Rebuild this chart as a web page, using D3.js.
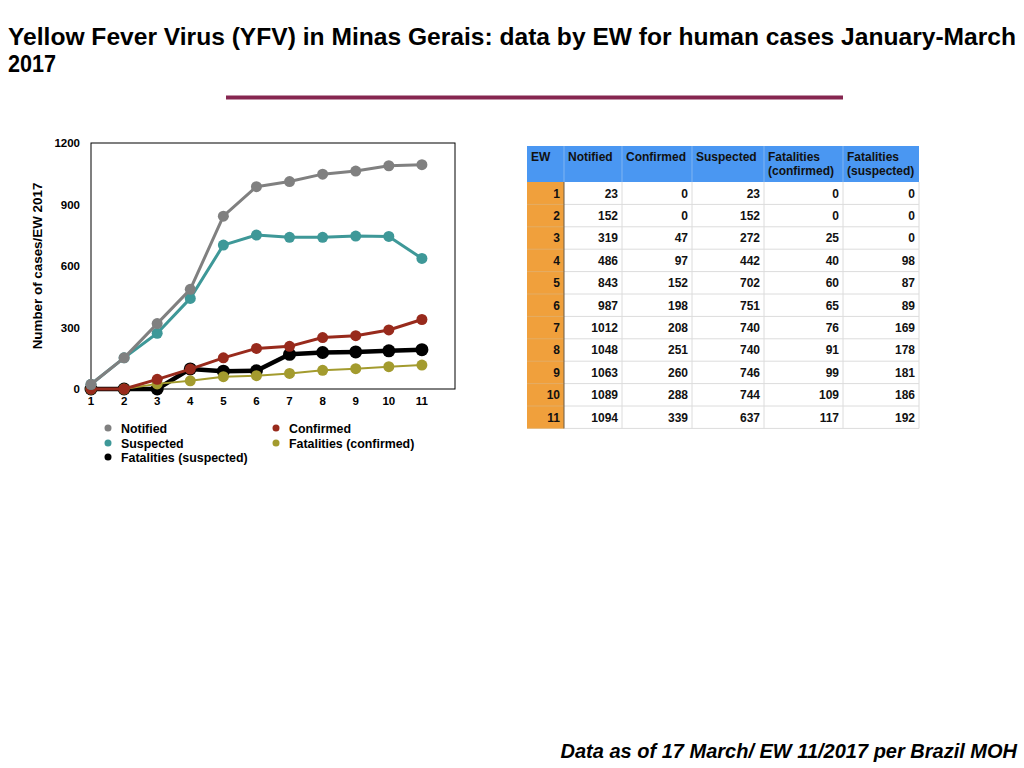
<!DOCTYPE html>
<html>
<head>
<meta charset="utf-8">
<script src="https://cdn.jsdelivr.net/npm/d3@7"></script>
<style>
  body { margin: 0; background: #fff; }
  text { font-family: "Liberation Sans", Arial, sans-serif; }
</style>
</head>
<body>
<div id="graph"></div>
<script>
// data
var weeks = [1, 2, 3, 4, 5, 6, 7, 8, 9, 10, 11];
var notified = [23, 152, 319, 486, 843, 987, 1012, 1048, 1063, 1089, 1094];
var confirmed = [0, 0, 47, 97, 152, 198, 208, 251, 260, 288, 339];
var suspected = [23, 152, 272, 442, 702, 751, 740, 740, 746, 744, 637];
var fatalConfirmed = [0, 0, 25, 40, 60, 65, 76, 91, 99, 109, 117];
var fatalSuspected = [0, 0, 0, 98, 87, 89, 169, 178, 181, 186, 192];
var yTicks = [0, 300, 600, 900, 1200];
var headers = [["EW"], ["Notified"], ["Confirmed"], ["Suspected"], ["Fatalities", "(confirmed)"], ["Fatalities", "(suspected)"]];

var svgWidth = 1024;
var svgHeight = 768;

var $svg = d3.select("#graph")
    .append("svg")
    .attr("width", svgWidth)
    .attr("height", svgHeight);

// title + rule
var titleLines = ["Yellow Fever Virus (YFV) in Minas Gerais: data by EW for human cases January-March", "2017"];
$svg.append("text")
    .attr("x", 8).attr("y", 45)
    .attr("font-size", 24).attr("font-weight", "bold")
    .attr("textLength", 1008).attr("lengthAdjust", "spacingAndGlyphs")
    .text(titleLines[0]);
$svg.append("text")
    .attr("x", 8).attr("y", 72)
    .attr("font-size", 24).attr("font-weight", "bold")
    .attr("textLength", 48).attr("lengthAdjust", "spacingAndGlyphs")
    .text(titleLines[1]);
$svg.append("rect")
    .attr("x", 226).attr("y", 95.5).attr("width", 617).attr("height", 4)
    .attr("fill", "#862650");

// chart
var x = d3.scaleLinear().domain([1, 12]).range([91, 455]);
var y = d3.scaleLinear().domain([0, 1200]).range([389, 143]);

$svg.append("rect")
    .attr("x", x(1)).attr("y", y(1200))
    .attr("width", x(12) - x(1)).attr("height", y(0) - y(1200))
    .attr("fill", "none").attr("stroke", "#000").attr("stroke-width", 1);

$svg.selectAll(".ytick").data(yTicks).enter().append("text")
    .attr("x", 80).attr("y", d => y(d) + 4)
    .attr("text-anchor", "end").attr("font-size", 11.5).attr("font-weight", "bold")
    .text(d => d);

$svg.selectAll(".xtick").data(weeks).enter().append("text")
    .attr("x", d => x(d)).attr("y", 405)
    .attr("text-anchor", "middle").attr("font-size", 11.5).attr("font-weight", "bold")
    .text(d => d);

$svg.append("text")
    .attr("transform", "translate(42,266) rotate(-90)")
    .attr("text-anchor", "middle").attr("font-size", 13.4).attr("font-weight", "bold")
    .text("Number of cases/EW 2017");

// drawn bottom to top
var series = [
    {name: "Fatalities (suspected)", values: fatalSuspected, color: "#000000", width: 4.5, r: 6.5},
    {name: "Fatalities (confirmed)", values: fatalConfirmed, color: "#A39B2E", width: 2, r: 5.5},
    {name: "Confirmed", values: confirmed, color: "#982A1C", width: 3, r: 5.5},
    {name: "Suspected", values: suspected, color: "#3E9898", width: 3, r: 5.5},
    {name: "Notified", values: notified, color: "#808080", width: 3, r: 5.5}
];

var line = d3.line().x((d, i) => x(weeks[i])).y(d => y(d));

series.forEach(s => {
    var g = $svg.append("g");
    g.append("path")
        .attr("d", line(s.values))
        .attr("fill", "none").attr("stroke", s.color)
        .attr("stroke-width", s.width).attr("stroke-linejoin", "round");
    g.selectAll("circle").data(s.values).enter().append("circle")
        .attr("cx", (d, i) => x(weeks[i])).attr("cy", d => y(d))
        .attr("r", s.r).attr("fill", s.color);
});

// legend
var legendItems = [
    {name: "Notified", color: "#808080", lx: 108, ly: 428},
    {name: "Confirmed", color: "#982A1C", lx: 276, ly: 428},
    {name: "Suspected", color: "#3E9898", lx: 108, ly: 443},
    {name: "Fatalities (confirmed)", color: "#A39B2E", lx: 276, ly: 443},
    {name: "Fatalities (suspected)", color: "#000000", lx: 108, ly: 457}
];
legendItems.forEach(d => {
    $svg.append("circle").attr("cx", d.lx).attr("cy", d.ly).attr("r", 3.5).attr("fill", d.color);
    $svg.append("text").attr("x", d.lx + 13).attr("y", d.ly + 4.5)
        .attr("font-size", 12.4).attr("font-weight", "bold").text(d.name);
});

// table
var colEdges = [527, 564, 622, 692, 764, 843, 919];
var headTop = 146, headBottom = 182, rowH = 22.4;
var rows = weeks.map((w, i) => [w, notified[i], confirmed[i], suspected[i], fatalConfirmed[i], fatalSuspected[i]]);
var tableBottom = headBottom + rowH * rows.length;

var $table = $svg.append("g");
$table.append("rect")
    .attr("x", colEdges[0]).attr("y", headTop)
    .attr("width", colEdges[6] - colEdges[0]).attr("height", headBottom - headTop)
    .attr("fill", "#4A97F2");
$table.append("rect")
    .attr("x", colEdges[0]).attr("y", headBottom)
    .attr("width", colEdges[1] - colEdges[0]).attr("height", tableBottom - headBottom)
    .attr("fill", "#F0A03C");

// grid lines
rows.forEach((r, i) => {
    var yy = headBottom + rowH * (i + 1);
    $table.append("line")
        .attr("x1", colEdges[1]).attr("x2", colEdges[6])
        .attr("y1", yy).attr("y2", yy)
        .attr("stroke", "#dcdcdc").attr("stroke-width", 1);
    $table.append("line")
        .attr("x1", colEdges[0]).attr("x2", colEdges[1])
        .attr("y1", yy).attr("y2", yy)
        .attr("stroke", "#e0b070").attr("stroke-width", 0.8);
});
colEdges.slice(2).forEach(cx => {
    $table.append("line")
        .attr("x1", cx).attr("x2", cx).attr("y1", headBottom).attr("y2", tableBottom)
        .attr("stroke", "#dcdcdc").attr("stroke-width", 1);
});
colEdges.slice(1, 6).forEach(cx => {
    $table.append("line")
        .attr("x1", cx).attr("x2", cx).attr("y1", headTop).attr("y2", headBottom)
        .attr("stroke", "#7fb4f2").attr("stroke-width", 1);
});
$table.append("line")
    .attr("x1", colEdges[1]).attr("x2", colEdges[1]).attr("y1", headBottom).attr("y2", tableBottom)
    .attr("stroke", "#6b5a44").attr("stroke-width", 1);

headers.forEach((h, c) => {
    h.forEach((t, k) => {
        $table.append("text")
            .attr("x", colEdges[c] + 4).attr("y", headTop + 15 + k * 14)
            .attr("font-size", 12).attr("font-weight", "bold").attr("fill", "#111")
            .text(t);
    });
});

rows.forEach((r, i) => {
    r.forEach((v, c) => {
        $table.append("text")
            .attr("x", colEdges[c + 1] - 4).attr("y", headBottom + rowH * i + 15.5)
            .attr("text-anchor", "end")
            .attr("font-size", 12).attr("font-weight", "bold").attr("fill", "#111")
            .text(v);
    });
});

// footer
$svg.append("text")
    .attr("x", 1017).attr("y", 758)
    .attr("text-anchor", "end")
    .attr("font-size", 20).attr("font-weight", "bold").attr("font-style", "italic")
    .text("Data as of 17 March/ EW 11/2017 per Brazil MOH");
</script>
</body>
</html>
